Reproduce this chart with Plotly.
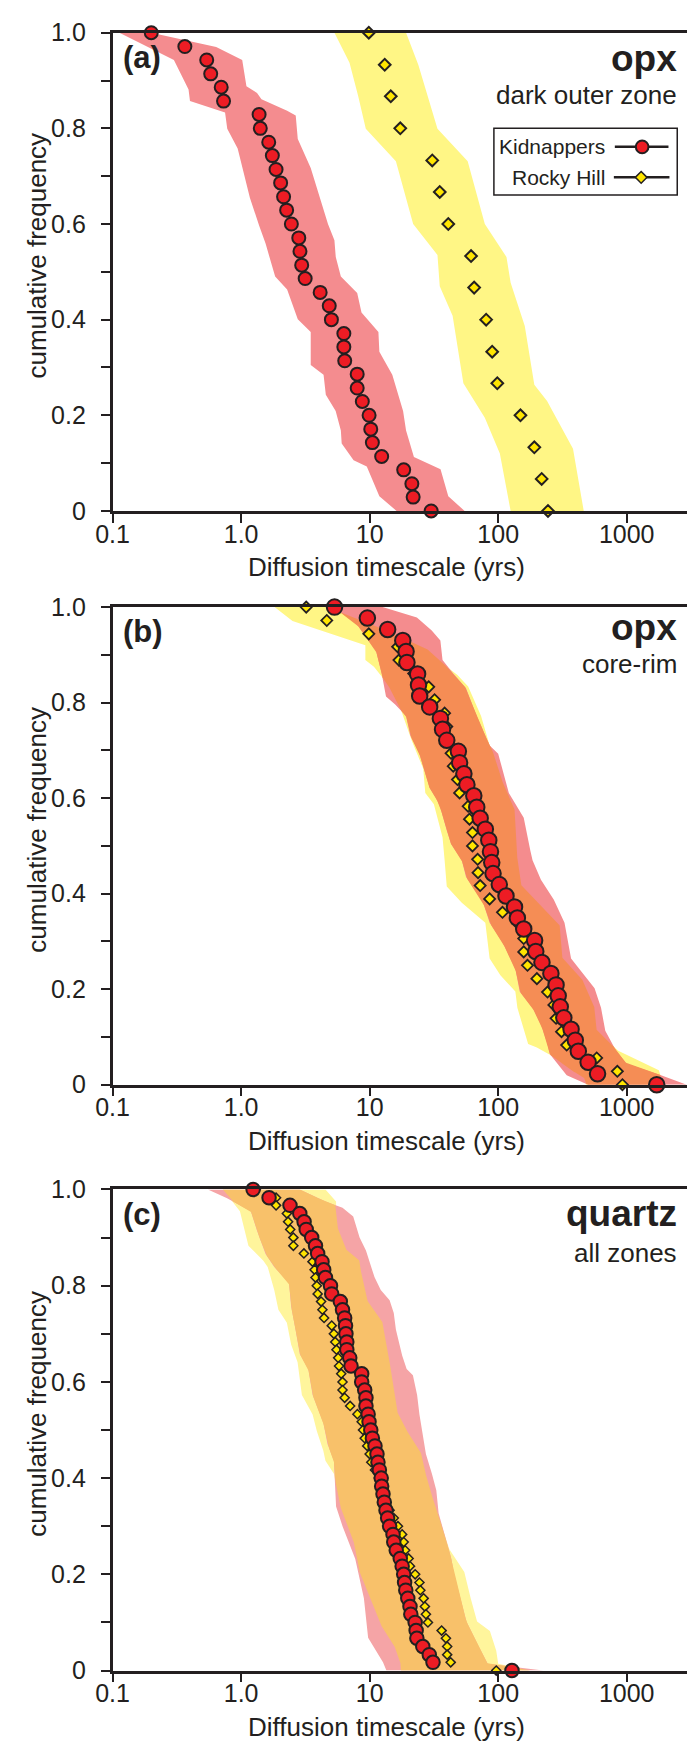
import numpy as np
import plotly.graph_objects as go

W, H = 687, 1760
INK = "#231F20"
RED = "#ED1C24"
YEL = "#FFE500"
FONT = "Liberation Sans, Arial, Helvetica, sans-serif"

X_TICKS = [0.1, 1, 10, 100, 1000]
X_TICKTEXT = ["0.1", "1.0", "10", "100", "1000"]
Y_TICKS = [0, 0.2, 0.4, 0.6, 0.8, 1.0]
Y_TICKTEXT = ["0", "0.2", "0.4", "0.6", "0.8", "1.0"]
Y_MINOR = [0.1, 0.3, 0.5, 0.7, 0.9]

# ---------------- panel (a): opx, dark outer zone ----------------
A_KID_X = [0.2, 0.365, 0.54, 0.58, 0.70, 0.73, 1.38, 1.41, 1.64, 1.75,
           1.87, 2.03, 2.14, 2.26, 2.46, 2.81, 2.87, 2.96, 3.15, 4.12,
           4.85, 5.04, 6.30, 6.30, 6.40, 8.0, 8.0, 8.77, 9.9, 10.2,
           10.5, 12.4, 18.4, 21.3, 21.8, 30.1]
A_KID_Y = [1.000, 0.971, 0.943, 0.914, 0.886, 0.857, 0.829, 0.800, 0.771, 0.743,
           0.714, 0.686, 0.657, 0.629, 0.600, 0.571, 0.543, 0.514, 0.486, 0.457,
           0.429, 0.400, 0.371, 0.343, 0.314, 0.286, 0.257, 0.229, 0.200, 0.171,
           0.143, 0.114, 0.086, 0.057, 0.029, 0.000]
A_ROCKY_X = [9.85, 13.1, 14.6, 17.3, 30.7, 35.1, 40.9, 61.5, 65.0, 80.6,
             89.8, 98.4, 149, 191, 218, 244]
A_ROCKY_Y = [1.000, 0.933, 0.867, 0.800, 0.733, 0.667, 0.600, 0.533, 0.467, 0.400,
             0.333, 0.267, 0.200, 0.133, 0.067, 0.000]
# uncertainty envelopes: (cumulative frequency, timescale)
A_KID_LEFT = [(1.0, 0.113), (0.943, 0.30), (0.881, 0.39), (0.857, 0.40), (0.833, 0.75),
              (0.799, 0.78), (0.758, 0.94), (0.655, 1.17), (0.597, 1.38), (0.559, 1.55),
              (0.490, 1.84), (0.463, 2.28), (0.401, 2.76), (0.374, 3.48), (0.305, 3.48),
              (0.285, 4.38), (0.243, 4.56), (0.209, 5.44), (0.168, 5.97), (0.141, 6.06),
              (0.106, 7.5), (0.093, 9.5), (0.031, 11.9), (0.0, 16.2)]
A_KID_RIGHT = [(1.0, 0.2), (0.970, 0.64), (0.943, 1.02), (0.888, 1.10), (0.874, 1.33),
               (0.861, 1.44), (0.837, 2.28), (0.827, 2.66), (0.778, 2.76), (0.717, 3.48),
               (0.600, 4.74), (0.566, 5.32), (0.531, 5.45), (0.490, 5.97), (0.456, 8.0),
               (0.415, 8.64), (0.374, 11.7), (0.333, 11.9), (0.285, 15.0), (0.209, 18.2),
               (0.168, 19.2), (0.113, 22.1), (0.087, 35.6), (0.031, 40.9), (0.0, 54.8)]
A_ROCKY_LEFT = [(1.0, 5.32), (0.937, 6.97), (0.868, 8.13), (0.799, 9.33), (0.731, 16.0),
                (0.600, 21.8), (0.535, 33.7), (0.470, 35.1), (0.408, 44.2), (0.267, 53.6),
                (0.195, 78.7), (0.120, 103), (0.0, 125)]
A_ROCKY_RIGHT = [(1.0, 19.2), (0.933, 23.9), (0.799, 33.7), (0.731, 57.9), (0.600, 78.7),
                 (0.531, 116), (0.477, 125), (0.387, 161), (0.264, 191), (0.230, 240),
                 (0.130, 382), (0.0, 463)]

# ---------------- panel (b): opx, core-rim ----------------
B_KID_X = [5.33, 9.6, 13.8, 18.1, 19.2, 19.5, 23.6, 24.0, 24.5, 29.3,
           35.5, 36.9, 39.8, 49.0, 50.1, 54.1, 57.1, 64.6, 68.1, 72.4,
           79.4, 84.5, 87.1, 89.1, 91.2, 102, 115, 134, 141, 158,
           192, 196, 219, 257, 282, 293, 304, 324, 369, 398,
           420, 501, 593, 1711]
B_KID_Y = [1.000, 0.977, 0.953, 0.930, 0.907, 0.884, 0.860, 0.837, 0.814, 0.791,
           0.767, 0.744, 0.721, 0.698, 0.674, 0.651, 0.628, 0.605, 0.581, 0.558,
           0.535, 0.512, 0.488, 0.465, 0.442, 0.419, 0.395, 0.372, 0.349, 0.326,
           0.302, 0.279, 0.256, 0.233, 0.209, 0.186, 0.163, 0.140, 0.116, 0.093,
           0.070, 0.047, 0.023, 0.000]
B_ROCKY_X = [3.21, 4.64, 9.85, 16.5, 16.9, 22, 28.8, 32, 38.3, 39.8,
             41, 43.0, 44.7, 48.2, 50.1, 58.4, 59.8, 63.1, 63.1, 69.2,
             69.7, 72.4, 85.8, 108, 148, 158, 158, 169, 200, 242,
             271, 282, 311, 341, 584, 845, 926]
B_ROCKY_Y = [1.000, 0.972, 0.944, 0.917, 0.889, 0.861, 0.833, 0.806, 0.778, 0.750,
             0.722, 0.694, 0.667, 0.639, 0.611, 0.583, 0.556, 0.528, 0.500, 0.472,
             0.444, 0.417, 0.389, 0.361, 0.333, 0.306, 0.278, 0.250, 0.222, 0.194,
             0.167, 0.139, 0.111, 0.083, 0.056, 0.028, 0.000]
B_KID_LEFT = [(1.0, 5.21), (0.964, 7.94), (0.909, 11.2), (0.861, 12.4), (0.813, 13.4),
              (0.796, 15.8), (0.772, 19.2), (0.731, 20.7), (0.696, 24.2), (0.655, 26.7),
              (0.621, 29.3), (0.600, 32.9), (0.580, 35.5), (0.532, 39.8), (0.504, 43.0),
              (0.470, 52.1), (0.435, 56.2), (0.381, 76.4), (0.339, 85.8), (0.298, 108),
              (0.243, 136), (0.195, 147), (0.161, 185), (0.126, 215), (0.085, 242),
              (0.065, 251), (0.020, 341), (0.0, 501)]
B_KID_RIGHT = [(1.0, 12.6), (0.978, 23.3), (0.951, 30.4), (0.930, 35.5), (0.889, 36.9),
               (0.861, 44.7), (0.830, 56.2), (0.772, 68.1), (0.710, 85.8), (0.693, 100),
               (0.611, 121), (0.559, 158), (0.490, 178), (0.470, 185), (0.429, 215),
               (0.387, 271), (0.339, 328), (0.264, 369), (0.202, 562), (0.161, 631),
               (0.113, 681), (0.071, 826), (0.044, 1000), (0.020, 1848), (0.0, 2929)]
B_ROCKY_LEFT = [(1.0, 1.82), (0.971, 2.51), (0.920, 9.26), (0.889, 9.26), (0.875, 10.8),
                (0.841, 13.6), (0.793, 17.1), (0.721, 21.2), (0.662, 26.1), (0.611, 27.1),
                (0.587, 31.6), (0.518, 36.9), (0.470, 38.3), (0.415, 39.8), (0.381, 52.1),
                (0.339, 79.4), (0.264, 85.8), (0.229, 104), (0.195, 136), (0.161, 141),
                (0.085, 171), (0.078, 200), (0.058, 271), (0.030, 369), (0.016, 464),
                (0.0, 482)]
B_ROCKY_RIGHT = [(1.0, 4.6), (0.971, 8.58), (0.944, 15.8), (0.909, 29.3), (0.875, 39.8),
                 (0.858, 48.2), (0.834, 58.4), (0.772, 73.6), (0.710, 85.8), (0.693, 92.6),
                 (0.621, 112), (0.573, 136), (0.470, 141), (0.415, 152), (0.374, 215),
                 (0.332, 304), (0.264, 316), (0.216, 464), (0.161, 562), (0.113, 584),
                 (0.071, 858), (0.030, 1778), (0.016, 1848), (0.0, 1848)]

# ---------------- panel (c): quartz, all zones ----------------
C_FREQ = [1.000, 0.983, 0.967, 0.950, 0.933, 0.917, 0.900, 0.883, 0.867, 0.850,
          0.833, 0.817, 0.800, 0.783, 0.767, 0.750, 0.733, 0.717, 0.700, 0.683,
          0.667, 0.650, 0.633, 0.617, 0.600, 0.583, 0.567, 0.550, 0.533, 0.517,
          0.500, 0.483, 0.467, 0.450, 0.433, 0.417, 0.400, 0.383, 0.367, 0.350,
          0.333, 0.317, 0.300, 0.283, 0.267, 0.250, 0.233, 0.217, 0.200, 0.183,
          0.167, 0.150, 0.133, 0.117, 0.100, 0.083, 0.067, 0.050, 0.033, 0.017,
          0.000]
C_KID_X = [1.24, 1.65, 2.40, 2.86, 3.09, 3.21, 3.54, 3.79, 3.94, 4.26,
           4.39, 4.53, 4.96, 5.07, 5.91, 6.15, 6.39, 6.49, 6.54, 6.64,
           6.64, 7.0, 7.16, 8.67, 8.67, 9.15, 9.36, 9.36, 9.73, 9.89,
           10.2, 10.5, 11.0, 11.4, 11.6, 11.9, 12.3, 12.4, 12.7, 13.0,
           13.4, 13.8, 14.3, 15.2, 15.4, 16.1, 17.3, 17.9, 18.4, 18.7,
           19.1, 19.8, 20.6, 20.9, 22.6, 23.0, 23.3, 25.9, 29.1, 31.1,
           128]
C_ROCKY_X = [1.3, 1.87, 1.87, 2.27, 2.32, 2.41, 2.55, 2.55, 3.08, 3.59,
             3.73, 3.79, 3.88, 3.94, 4.19, 4.29, 4.42, 5.07, 5.27, 5.40,
             5.52, 5.69, 5.78, 6.01, 6.15, 6.15, 6.39, 7.05, 8.03, 8.67,
             8.88, 9.15, 9.57, 10.0, 10.3, 11.0, 11.8, 12.2, 12.8, 13.3,
             14.3, 15.4, 16.6, 17.9, 18.4, 18.9, 20.1, 20.6, 22.6, 24.4,
             24.8, 26.3, 26.9, 27.4, 28.4, 36.3, 39.2, 40.1, 40.1, 42.7,
             96.6]
C_KID_LEFT = [(1.0, 0.551), (0.982, 0.778), (0.955, 1.19), (0.914, 1.33), (0.866, 1.55),
              (0.839, 1.81), (0.805, 2.36), (0.757, 2.45), (0.709, 2.65), (0.658, 2.86),
              (0.627, 3.33), (0.573, 3.60), (0.515, 4.36), (0.471, 4.70), (0.436, 5.27),
              (0.341, 5.48), (0.300, 6.15), (0.232, 7.73), (0.150, 9.02), (0.068, 9.73),
              (0.017, 12.7), (0.007, 13.2), (0.0, 13.5)]
C_KID_RIGHT = [(1.0, 2.86), (0.975, 4.53), (0.962, 6.15), (0.944, 7.45), (0.900, 8.35),
               (0.873, 9.36), (0.818, 10.9), (0.791, 12.2), (0.770, 14.3), (0.743, 15.4),
               (0.709, 16.0), (0.655, 17.9), (0.627, 19.4), (0.614, 21.7), (0.573, 23.4),
               (0.532, 24.4), (0.450, 27.4), (0.409, 30.5), (0.375, 33.0), (0.327, 34.4),
               (0.232, 43.3), (0.205, 45.0), (0.102, 56.6), (0.048, 71.2), (0.014, 82.9),
               (0.0, 224)]
C_ROCKY_LEFT = [(1.0, 0.721), (0.978, 0.84), (0.955, 0.979), (0.883, 1.14), (0.852, 1.49),
                (0.839, 1.61), (0.791, 1.81), (0.750, 1.95), (0.723, 2.27), (0.678, 2.45),
                (0.641, 2.75), (0.573, 2.97), (0.532, 3.60), (0.498, 3.88), (0.457, 4.36),
                (0.436, 4.53), (0.409, 5.27), (0.341, 5.91), (0.273, 7.45), (0.205, 8.35),
                (0.136, 10.5), (0.095, 12.2), (0.054, 15.4), (0.020, 17.3), (0.0, 17.5)]
C_ROCKY_RIGHT = [(1.0, 4.53), (0.975, 5.48), (0.958, 5.48), (0.914, 5.69), (0.873, 6.64),
                 (0.852, 8.35), (0.818, 8.67), (0.764, 9.73), (0.723, 12.7), (0.641, 14.3),
                 (0.586, 15.4), (0.532, 16.6), (0.484, 20.9), (0.450, 25.4), (0.395, 28.0),
                 (0.320, 34.4), (0.252, 41.7), (0.205, 54.5), (0.150, 61.1), (0.102, 68.5),
                 (0.082, 86.2), (0.041, 96.6), (0.014, 100), (0.0, 178)]

# band colours per panel
A_COLORS = dict(kid="#F48C8F", rocky="#FFF685", both=None)
B_COLORS = dict(kid="#F48C8E", rocky="#FFF685", both="#F58D55")
C_COLORS = dict(kid="#F5A4A6", rocky="#FFF59C", both="#F8C16A")

# ---------------- layout geometry (pixels) ----------------
X_LEFT_PX = 98
PANELS = [  # (top px, bottom px)
    (19, 505),
    (602.7, 1088),
    (1194.5, 1683.3),
]

fig = go.Figure()


def edge_log(edge, fgrid):
    f = np.array([p[0] for p in edge])
    lx = np.log10([p[1] for p in edge])
    order = np.argsort(f, kind="stable")
    return np.interp(fgrid, f[order], lx[order])


def add_band(left, right, color, xa, ya):
    lft = sorted(left, key=lambda p: -p[0])
    rgt = sorted(right, key=lambda p: p[0])
    xs = [p[1] for p in lft] + [p[1] for p in rgt]
    ys = [p[0] for p in lft] + [p[0] for p in rgt]
    fig.add_trace(go.Scatter(x=xs, y=ys, mode="lines", fill="toself", fillcolor=color,
                             line=dict(width=0, color=color), hoverinfo="skip",
                             showlegend=False, xaxis=xa, yaxis=ya))


def add_overlap(kl, kr, rl, rr, color, xa, ya):
    fg = np.linspace(0, 1, 1201)
    L = np.maximum(edge_log(kl, fg), edge_log(rl, fg))
    R = np.minimum(edge_log(kr, fg), edge_log(rr, fg))
    R = np.maximum(R, L)
    xs = np.concatenate([10 ** L[::-1], 10 ** R])
    ys = np.concatenate([fg[::-1], fg])
    fig.add_trace(go.Scatter(x=xs, y=ys, mode="lines", fill="toself", fillcolor=color,
                             line=dict(width=0, color=color), hoverinfo="skip",
                             showlegend=False, xaxis=xa, yaxis=ya))


def add_points(kx, ky, rx, ry, xa, ya, csize, dsize, dline):
    fig.add_trace(go.Scatter(x=rx, y=ry, mode="markers", name="Rocky Hill",
                             marker=dict(symbol="diamond", size=dsize, color=YEL,
                                         line=dict(color=INK, width=dline)),
                             cliponaxis=False, showlegend=False, xaxis=xa, yaxis=ya))
    fig.add_trace(go.Scatter(x=kx, y=ky, mode="markers", name="Kidnappers",
                             marker=dict(symbol="circle", size=csize, color=RED,
                                         line=dict(color=INK, width=2)),
                             cliponaxis=False, showlegend=False, xaxis=xa, yaxis=ya))


# panel a
add_band(A_ROCKY_LEFT, A_ROCKY_RIGHT, A_COLORS["rocky"], "x", "y")
add_band(A_KID_LEFT, A_KID_RIGHT, A_COLORS["kid"], "x", "y")
add_points(A_KID_X, A_KID_Y, A_ROCKY_X, A_ROCKY_Y, "x", "y", 13, 9, 2)
# panel b
add_band(B_ROCKY_LEFT, B_ROCKY_RIGHT, B_COLORS["rocky"], "x2", "y2")
add_band(B_KID_LEFT, B_KID_RIGHT, B_COLORS["kid"], "x2", "y2")
add_overlap(B_KID_LEFT, B_KID_RIGHT, B_ROCKY_LEFT, B_ROCKY_RIGHT, B_COLORS["both"], "x2", "y2")
add_points(B_KID_X, B_KID_Y, B_ROCKY_X, B_ROCKY_Y, "x2", "y2", 15.5, 8.5, 1.8)
# panel c
add_band(C_ROCKY_LEFT, C_ROCKY_RIGHT, C_COLORS["rocky"], "x3", "y3")
add_band(C_KID_LEFT, C_KID_RIGHT, C_COLORS["kid"], "x3", "y3")
add_overlap(C_KID_LEFT, C_KID_RIGHT, C_ROCKY_LEFT, C_ROCKY_RIGHT, C_COLORS["both"], "x3", "y3")
add_points(C_KID_X, C_FREQ, C_ROCKY_X, C_FREQ, "x3", "y3", 13.5, 7, 1.5)


def px(x):
    return x / W


def py(y):
    return 1 - y / H


layout = dict(width=W, height=H, margin=dict(l=0, r=0, t=0, b=0),
              paper_bgcolor="white", plot_bgcolor="white", showlegend=False)

xmax = -1 + (W - X_LEFT_PX) / 131.8
for i, (top, bot) in enumerate(PANELS):
    sfx = "" if i == 0 else str(i + 1)
    layout["xaxis" + sfx] = dict(
        type="log", range=[-1, xmax], domain=[px(X_LEFT_PX), 1],
        anchor="y" + sfx, showline=True, linecolor=INK, linewidth=2.5, mirror=True,
        ticks="outside", ticklen=9, tickwidth=2, tickcolor=INK,
        tickmode="array", tickvals=X_TICKS, ticktext=X_TICKTEXT,
        tickfont=dict(family=FONT, size=25, color=INK), ticklabelstandoff=-10,
        showgrid=False, zeroline=False, fixedrange=True)
    layout["yaxis" + sfx] = dict(
        range=[0, 1], domain=[py(bot), py(top)], anchor="x" + sfx,
        showline=True, linecolor=INK, linewidth=2.5, mirror=False,
        ticks="outside", ticklen=9, tickwidth=2, tickcolor=INK,
        tickmode="array", tickvals=Y_TICKS, ticktext=Y_TICKTEXT,
        tickfont=dict(family=FONT, size=25, color=INK), ticklabelstandoff=10,
        minor=dict(tickmode="array", tickvals=Y_MINOR, ticks="outside", ticklen=9,
                   tickwidth=2, tickcolor=INK, showgrid=False),
        showgrid=False, zeroline=False, fixedrange=True)

fig.update_layout(**layout)

ann = []
labels = ["(a)", "(b)", "(c)"]
titles = ["opx", "opx", "quartz"]
subs = ["dark outer zone", "core-rim", "all zones"]
title_base = [39.3, 34.0, 37.2]
sub_base = [72.7, 67.3, 73.8]
for i, (top, bot) in enumerate(PANELS):
    ann.append(dict(text="<b>%s</b>" % labels[i], x=px(107), y=py(top + 25), xref="paper",
                    yref="paper", xanchor="left", yanchor="middle", showarrow=False,
                    font=dict(family=FONT, size=31, color=INK)))
    ann.append(dict(text="<b>%s</b>" % titles[i], x=px(679), y=py(top + title_base[i] - 12.8),
                    xref="paper", yref="paper", xanchor="right", yanchor="middle",
                    showarrow=False, font=dict(family=FONT, size=37, color=INK)))
    ann.append(dict(text=subs[i], x=px(679), y=py(top + sub_base[i] - 9.0),
                    xref="paper", yref="paper", xanchor="right", yanchor="middle",
                    showarrow=False, font=dict(family=FONT, size=26, color=INK)))
    ann.append(dict(text="cumulative frequency", textangle=-90, x=px(21),
                    y=py((top + bot) / 2 - 17), xref="paper", yref="paper",
                    xanchor="center", yanchor="middle", showarrow=False,
                    font=dict(family=FONT, size=26, color=INK)))
    ann.append(dict(text="Diffusion timescale (yrs)", x=px(379), y=py(bot + 57),
                    xref="paper", yref="paper", xanchor="center", yanchor="middle",
                    showarrow=False, font=dict(family=FONT, size=26, color=INK)))

# legend (panel a), drawn by hand: label on the left, symbol on the right
ann.append(dict(text="Kidnappers", x=px(605), y=py(134.5), xref="paper", yref="paper",
                xanchor="right", yanchor="middle", showarrow=False,
                font=dict(family=FONT, size=21, color=INK)))
ann.append(dict(text="Rocky Hill", x=px(605), y=py(166), xref="paper", yref="paper",
                xanchor="right", yanchor="middle", showarrow=False,
                font=dict(family=FONT, size=21, color=INK)))

shapes = [
    dict(type="rect", xref="paper", yref="paper", x0=px(489), x1=px(677), y0=py(184), y1=py(116),
         line=dict(color=INK, width=1.5), fillcolor="white", layer="above"),
    dict(type="line", xref="paper", yref="paper", x0=px(613), x1=px(668), y0=py(135), y1=py(135),
         line=dict(color=INK, width=2.5)),
    dict(type="line", xref="paper", yref="paper", x0=px(612), x1=px(669), y0=py(166), y1=py(166),
         line=dict(color=INK, width=2.5)),
    dict(type="circle", xref="paper", yref="paper", x0=px(634.5), x1=px(647.5), y0=py(141.5),
         y1=py(128.5), fillcolor=RED, line=dict(color=INK, width=2)),
    dict(type="path", xref="paper", yref="paper",
         path="M %f,%f L %f,%f L %f,%f L %f,%f Z" % (px(640), py(160), px(646), py(166),
                                                      px(640), py(172), px(634), py(166)),
         fillcolor=YEL, line=dict(color=INK, width=1.5)),
]
fig.update_layout(annotations=ann, shapes=shapes)

fig.write_html("out.html", config={"displayModeBar": False},
               post_script="document.body.style.margin='0px';"
                           "document.body.style.overflow='hidden';")
